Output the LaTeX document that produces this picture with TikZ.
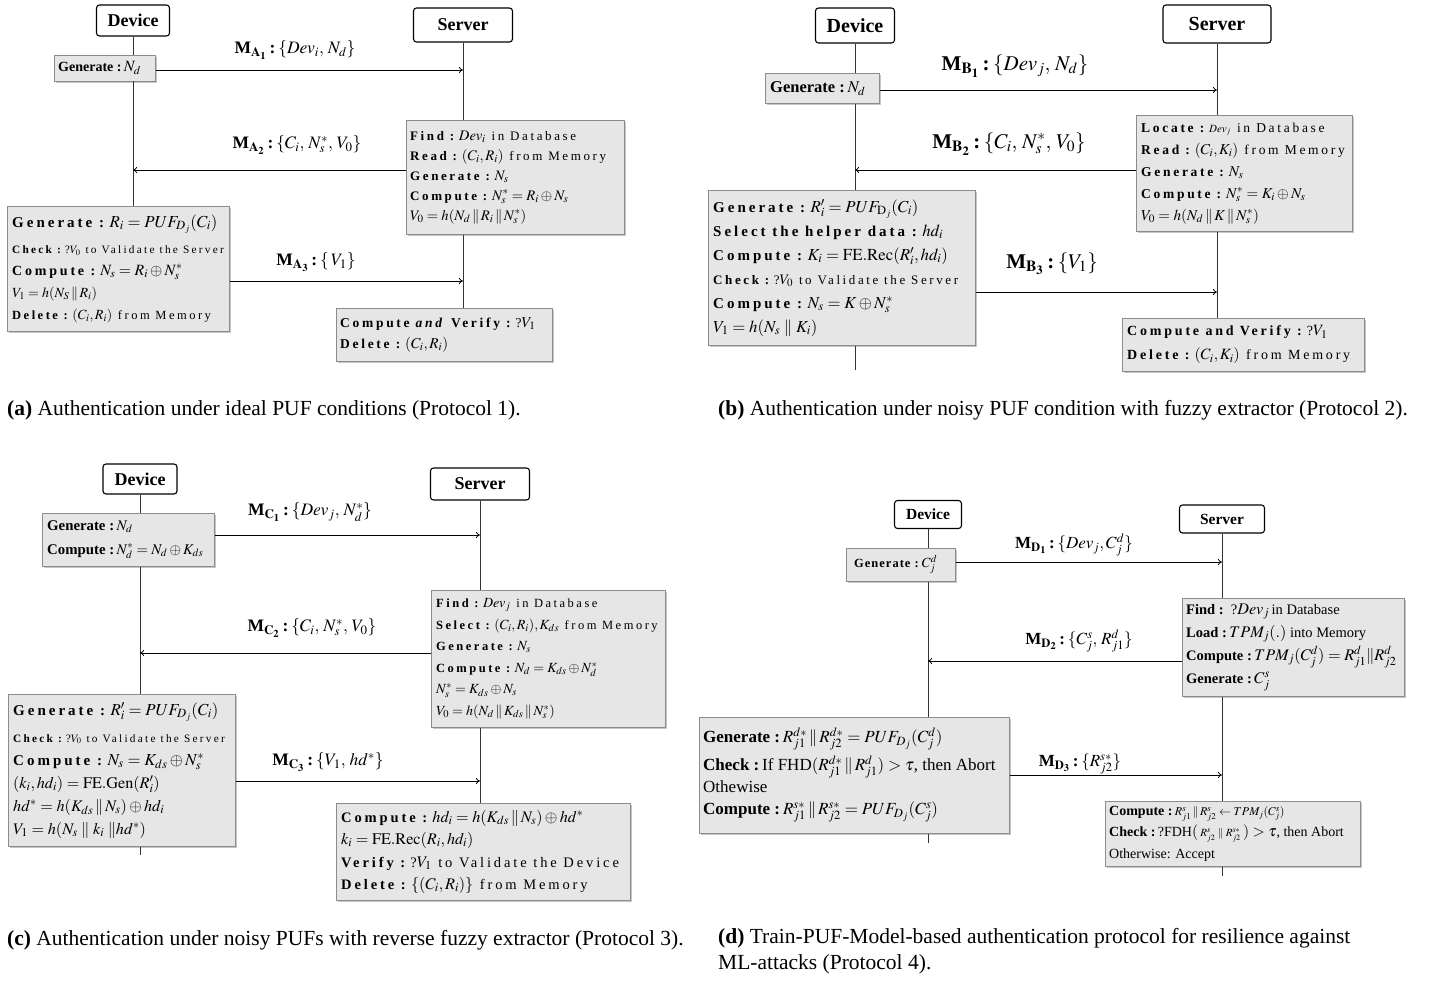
\documentclass[tikz,border=0pt]{standalone}
\usepackage{mathptmx}
\usepackage{fontspec}
\setmainfont{Liberation Serif}
\newfontfamily\spfont[LetterSpace=20]{Liberation Serif}
\newfontfamily\spsfont[LetterSpace=8]{Liberation Serif}
\DeclareMathSizes{11.5}{12.9}{9.5}{7}
\DeclareMathSizes{12.5}{14}{10.5}{7.5}
\DeclareMathSizes{13}{14.6}{11}{8}
\DeclareMathSizes{13.5}{15.1}{11.3}{8.3}
\DeclareMathSizes{14}{15.7}{11.8}{8.6}
\DeclareMathSizes{14.5}{16.2}{12.2}{8.9}
\DeclareMathSizes{15}{16.8}{12.6}{9.2}
\DeclareMathSizes{15.5}{17.4}{13}{9.5}
\DeclareMathSizes{16}{17.9}{13.4}{9.8}
\usetikzlibrary{arrows.meta,shadows,calc}
\definecolor{boxgray}{HTML}{E6E6E6}
\definecolor{boxline}{HTML}{8C8C8C}
\newcommand\msgl[3]{\textbf{M}$_{\mathbf{#1}_{\mathbf{#2}}}$\,\textbf{:}\,$\{#3\}$}
\begin{document}
\begin{tikzpicture}[x=1pt,y=-1pt,
 hdr/.style={draw=black, line width=1.1pt, rounded corners=3pt, fill=white, font=\bfseries\fontsize{18}{20}\selectfont, inner sep=0pt},
 pbox/.style={draw=boxline, line width=0.5pt, fill=boxgray, anchor=north west, inner sep=0pt, drop shadow={shadow xshift=1.5pt, shadow yshift=-1.5pt, opacity=0.45}},
 ptxt/.style={anchor=west, align=left, inner sep=0pt, font=\spfont\fontsize{13}{20}\selectfont},
 life/.style={draw=black!80, line width=0.6pt},
 msg/.style={draw=black, line width=0.8pt, -{To[length=4pt,width=6pt]}},
 lbl/.style={inner sep=0pt, font=\fontsize{17.5}{19}\selectfont},
 captxt/.style={anchor=west, inner sep=0pt, font=\fontsize{21.5}{26}\selectfont}]
\useasboundingbox (0,0) rectangle (1438,982);

% ================= (a) =================
\node[hdr, minimum width=73, minimum height=31] (devA) at (133,20.5) {Device};
\node[hdr, minimum width=99, minimum height=34] (srvA) at (463,25) {Server};
\node[pbox, minimum width=101, minimum height=26] (gA1) at (54,55) {};
\node[pbox, minimum width=218, minimum height=114] (sA1) at (406,120) {};
\node[pbox, minimum width=222, minimum height=125] (dA2) at (7,206) {};
\node[pbox, minimum width=216, minimum height=53] (sA2) at (336,308) {};
\node[ptxt, font=\fontsize{14}{20}\selectfont] (gA1t) at ([xshift=4pt]gA1.west) {\textbf{Generate :}\,$N_d$};
\node[ptxt] (sA1t) at ([xshift=4pt]sA1.west) {\textbf{Find :}\,$Dev_i$ in Database\\
\textbf{Read :}\,$(C_i,R_i)$ from Memory\\
\textbf{Generate :}\,$N_s$\\
\textbf{Compute :}\,$N_s^{*}=R_i\oplus N_s$\\
$V_0=h(N_d\,\|\,R_i\,\|\,N_s^{*})$};
\node[ptxt, font=\spfont\fontsize{12.5}{22}\selectfont] (dA2t) at ([xshift=5pt]dA2.west) {{\fontsize{15}{15}\selectfont\textbf{Generate :}\,$R_i=PUF_{D_j}(C_i)$}\\[4pt]
{\fontsize{11.3}{11}\selectfont\textbf{Check :}\,?$V_0$ to Validate the Server}\\
{\fontsize{14}{13}\selectfont\textbf{Compute :}\,$N_s=R_i\oplus N_s^{*}$}\\
$V_1=h(N_S\,\|\,R_i)$\\
\textbf{Delete :}\,$(C_i,R_i)$ from Memory};
\node[ptxt, font=\spfont\fontsize{13.5}{21}\selectfont] (sA2t) at ([xshift=4pt]sA2.west) {\textbf{Compute \textit{and} Verify :}\,?$V_1$\\
\textbf{Delete :}\,$(C_i,R_i)$};
\coordinate (yA1) at (0,70);
\coordinate (yA2) at (0,170);
\coordinate (yA3) at (0,281);
\draw[life] (devA.south) -- (devA |- gA1.north);
\draw[life] (devA |- gA1.south) -- (devA |- dA2.north);
\draw[life] (srvA.south) -- (srvA |- sA1.north);
\draw[life] (srvA |- sA1.south) -- (srvA |- sA2.north);
\draw[msg] (gA1.east |- yA1) -- (srvA |- yA1);
\draw[msg] (sA1.west |- yA2) -- (devA |- yA2);
\draw[msg] (dA2.east |- yA3) -- (srvA |- yA3);
\node[lbl] (lA1) at (295,50) {\msgl{A}{1}{Dev_i,\,N_d}};
\node[lbl] (lA2) at (297,145) {\msgl{A}{2}{C_i,\,N_s^{*},\,V_0}};
\node[lbl] (lA3) at (316,262) {\msgl{A}{3}{\,V_1}};
\node[captxt] (capA) at (7,410) {\textbf{(a)} Authentication under ideal PUF conditions (Protocol 1).};

% ================= (b) =================
\node[hdr, minimum width=79, minimum height=35, font=\bfseries\fontsize{20}{22}\selectfont] (devB) at (855,25.5) {Device};
\node[hdr, minimum width=108, minimum height=38, font=\bfseries\fontsize{20}{22}\selectfont] (srvB) at (1217,24) {Server};
\node[pbox, minimum width=114, minimum height=30] (gB1) at (765,73) {};
\node[pbox, minimum width=216, minimum height=116] (sB1) at (1136,115) {};
\node[pbox, minimum width=267, minimum height=155] (dB2) at (708,190) {};
\node[pbox, minimum width=242, minimum height=53] (sB2) at (1122,318) {};
\node[ptxt, font=\fontsize{16.5}{20}\selectfont] (gB1t) at ([xshift=5pt]gB1.west) {\textbf{Generate :}\,$N_d$};
\node[ptxt, font=\spfont\fontsize{13.5}{22}\selectfont] (sB1t) at ([xshift=5pt]sB1.west) {\textbf{Locate :}\,{\fontsize{11}{10}\selectfont$Dev_j$} in Database\\
\textbf{Read :}\,$(C_i,K_i)$ from Memory\\
\textbf{Generate :}\,$N_s$\\
\textbf{Compute :}\,$N_s^{*}=K_i\oplus N_s$\\
$V_0=h(N_d\,\|\,K\,\|\,N_s^{*})$};
\node[ptxt, font=\spfont\fontsize{15}{24}\selectfont] (dB2t) at ([xshift=5pt]dB2.west) {\textbf{Generate :}\,$R_i'=PUF_{\mathrm{D}_j}(C_i)$\\
\textbf{Select the helper data :}\,$hd_i$\\
\textbf{Compute :}\,$K_i=\mathrm{FE.Rec}(R_i',hd_i)$\\
{\fontsize{13}{13}\selectfont\textbf{Check :}\,?$V_0$ to Validate the Server}\\
\textbf{Compute :}\,$N_s=K\oplus N_s^{*}$\\
$V_1=h(N_s\;\|\;K_i)$};
\node[ptxt, font=\spfont\fontsize{14}{24}\selectfont] (sB2t) at ([xshift=5pt]sB2.west) {\textbf{Compute and Verify :}\,?$V_1$\\
\textbf{Delete :}\,$(C_i,K_i)$ from Memory};
\coordinate (yB1) at (0,90);
\coordinate (yB2) at (0,170);
\coordinate (yB3) at (0,292);
\coordinate (endB) at (0,370);
\draw[life] (devB.south) -- (devB |- gB1.north);
\draw[life] (devB |- gB1.south) -- (devB |- dB2.north);
\draw[life] (devB |- dB2.south) -- (devB |- endB);
\draw[life] (srvB.south) -- (srvB |- sB1.north);
\draw[life] (srvB |- sB1.south) -- (srvB |- sB2.north);
\draw[msg] (gB1.east |- yB1) -- (srvB |- yB1);
\draw[msg] (sB1.west |- yB2) -- (devB |- yB2);
\draw[msg] (dB2.east |- yB3) -- (srvB |- yB3);
\node[lbl, font=\fontsize{21}{23}\selectfont] (lB1) at (1015,66) {\msgl{B}{1}{Dev_j,\,N_d}};
\node[lbl, font=\fontsize{21}{23}\selectfont] (lB2) at (1009,144) {\msgl{B}{2}{C_i,\,N_s^{*},\,V_0}};
\node[lbl, font=\fontsize{21}{23}\selectfont] (lB3) at (1052,264) {\msgl{B}{3}{V_1}};
\node[captxt] (capB) at (718,410) {\textbf{(b)} Authentication under noisy PUF condition with fuzzy extractor (Protocol 2).};

% ================= (c) =================
\node[hdr, minimum width=74, minimum height=30] (devC) at (140,479) {Device};
\node[hdr, minimum width=99, minimum height=32] (srvC) at (480,484) {Server};
\node[pbox, minimum width=172, minimum height=53] (dC1) at (42,513) {};
\node[pbox, minimum width=234, minimum height=137] (sC1) at (431,590) {};
\node[pbox, minimum width=227, minimum height=152] (dC2) at (8,694) {};
\node[pbox, minimum width=294, minimum height=97] (sC2) at (336,803) {};
\node[ptxt, font=\fontsize{14.8}{24}\selectfont] (dC1t) at ([xshift=5pt]dC1.west) {\textbf{Generate :}\,$N_d$\\
\textbf{Compute :}\,$N_d^{*}=N_d\oplus K_{ds}$};
\node[ptxt, font=\spfont\fontsize{12.5}{21.5}\selectfont] (sC1t) at ([xshift=5pt]sC1.west) {\textbf{Find :}\,$Dev_j$ in Database\\
\textbf{Select :}\,$(C_i,R_i),K_{ds}$ from Memory\\
\textbf{Generate :}\,$N_s$\\
\textbf{Compute :}\,$N_d=K_{ds}\oplus N_d^{*}$\\
$N_s^{*}=K_{ds}\oplus N_s$\\
$V_0=h(N_d\,\|\,K_{ds}\,\|\,N_s^{*})$};
\node[ptxt, font=\spfont\fontsize{14.5}{23}\selectfont] (dC2t) at ([xshift=5pt]dC2.west) {{\fontsize{15}{14}\selectfont\textbf{Generate :}\,$R_i'=PUF_{D_j}(C_i)$}\\[4pt]
{\fontsize{11.3}{11}\selectfont\textbf{Check :}\,?$V_0$ to Validate the Server}\\
{\fontsize{15}{13}\selectfont\textbf{Compute :}\,$N_s=K_{ds}\oplus N_s^{*}$}\\
$(k_i,hd_i)=\mathrm{FE.Gen}(R_i')$\\
$hd^{*}=h(K_{ds}\,\|\,N_s)\oplus hd_i$\\
$V_1=h(N_s\;\|\;k_i\;\|hd^{*})$};
\node[ptxt, font=\spfont\fontsize{14.5}{22.5}\selectfont] (sC2t) at ([xshift=5pt]sC2.west) {\textbf{Compute :}\,$hd_i=h(K_{ds}\,\|\,N_s)\oplus hd^{*}$\\
$k_i=\mathrm{FE.Rec}(R_i,hd_i)$\\
\textbf{Verify :}\,?$V_1$ to Validate the Device\\
\textbf{Delete :}\,$\{(C_i,R_i)\}$ from Memory};
\coordinate (yC1) at (0,535);
\coordinate (yC2) at (0,653);
\coordinate (yC3) at (0,781);
\coordinate (endC) at (0,855);
\draw[life] (devC.south) -- (devC |- dC1.north);
\draw[life] (devC |- dC1.south) -- (devC |- dC2.north);
\draw[life] (devC |- dC2.south) -- (devC |- endC);
\draw[life] (srvC.south) -- (srvC |- sC1.north);
\draw[life] (srvC |- sC1.south) -- (srvC |- sC2.north);
\draw[msg] (dC1.east |- yC1) -- (srvC |- yC1);
\draw[msg] (sC1.west |- yC2) -- (devC |- yC2);
\draw[msg] (dC2.east |- yC3) -- (srvC |- yC3);
\node[lbl] (lC1) at (310,512) {\msgl{C}{1}{Dev_j,\,N_d^{*}}};
\node[lbl] (lC2) at (312,628) {\msgl{C}{2}{C_i,\,N_s^{*},\,V_0}};
\node[lbl] (lC3) at (328,762) {\msgl{C}{3}{V_1,\,hd^{*}}};
\node[captxt] (capC) at (7,940) {\textbf{(c)} Authentication under noisy PUFs with reverse fuzzy extractor (Protocol 3).};

% ================= (d) =================
\node[hdr, minimum width=67, minimum height=28, font=\bfseries\fontsize{15.5}{17}\selectfont] (devD) at (928,514.5) {Device};
\node[hdr, minimum width=85, minimum height=28, font=\bfseries\fontsize{15.5}{17}\selectfont] (srvD) at (1222,519) {Server};
\node[pbox, minimum width=109, minimum height=33] (dD1) at (846,548) {};
\node[pbox, minimum width=222, minimum height=98] (sD1) at (1182,598) {};
\node[pbox, minimum width=310, minimum height=116] (dD2) at (699,717) {};
\node[pbox, minimum width=255, minimum height=65] (sD2) at (1105,801) {};
\node[ptxt, font=\spsfont\fontsize{12.5}{20}\selectfont] (dD1t) at ([xshift=8pt]dD1.west) {\textbf{Generate :}\,$C_j^{d}$};
\node[ptxt, font=\fontsize{14.5}{23}\selectfont] (sD1t) at ([xshift=4pt]sD1.west) {\textbf{Find :}\ \ ?$Dev_j$\,in Database\\
\textbf{Load :}\,$TPM_j(.)$ into Memory\\
\textbf{Compute :}\,$TPM_j(C_j^{d})=R_{j1}^{d}\|R_{j2}^{d}$\\
\textbf{Generate :}\,$C_j^{s}$};
\node[ptxt, font=\fontsize{17}{28}\selectfont] (dD2t) at ([xshift=4pt]dD2.west) {\textbf{Generate :}\,$R_{j1}^{d*}\,\|\,R_{j2}^{d*}=PUF_{D_j}(C_j^{d})$\\
\textbf{Check :}\,If FHD$(R_{j1}^{d*}\,\|\,R_{j1}^{d})>\tau$, then Abort\\[-6pt]
Othewise\\[-6pt]
\textbf{Compute :}\,$R_{j1}^{s*}\,\|\,R_{j2}^{s*}=PUF_{D_j}(C_j^{s})$};
\node[ptxt, font=\fontsize{14}{21.5}\selectfont] (sD2t) at ([xshift=4pt]sD2.west) {\textbf{Compute :}\,{\fontsize{12}{12}\selectfont$R_{j1}^{s}\,\|\,R_{j2}^{s}\leftarrow TPM_j(C_j^{s})$}\\
\textbf{Check :}\,?FDH$($\,{\fontsize{11}{11}\selectfont$R_{j2}^{s}\;\|\;R_{j2}^{s*}$}\,$)>\tau$, then Abort\\
Otherwise: Accept};
\coordinate (yD1) at (0,562);
\coordinate (yD2) at (0,661);
\coordinate (yD3) at (0,775);
\coordinate (endD1) at (0,843);
\coordinate (endD2) at (0,876);
\draw[life] (devD.south) -- (devD |- dD1.north);
\draw[life] (devD |- dD1.south) -- (devD |- dD2.north);
\draw[life] (devD |- dD2.south) -- (devD |- endD1);
\draw[life] (srvD.south) -- (srvD |- sD1.north);
\draw[life] (srvD |- sD1.south) -- (srvD |- sD2.north);
\draw[life] (srvD |- sD2.south) -- (srvD |- endD2);
\draw[msg] (dD1.east |- yD1) -- (srvD |- yD1);
\draw[msg] (sD1.west |- yD2) -- (devD |- yD2);
\draw[msg] (dD2.east |- yD3) -- (srvD |- yD3);
\node[lbl, font=\fontsize{17}{19}\selectfont] (lD1) at (1074,545) {\msgl{D}{1}{Dev_j,C_j^{d}}};
\node[lbl, font=\fontsize{17}{19}\selectfont] (lD2) at (1079,641) {\msgl{D}{2}{C_j^{s},\,R_{j1}^{d}}};
\node[lbl, font=\fontsize{17}{19}\selectfont] (lD3) at (1080,764) {\msgl{D}{3}{R_{j2}^{s*}}};
\node[captxt, anchor=north west, align=left] (capD) at (718,928) {\textbf{(d)} Train-PUF-Model-based authentication protocol for resilience against\\ML-attacks (Protocol 4).};
\end{tikzpicture}
\end{document}
